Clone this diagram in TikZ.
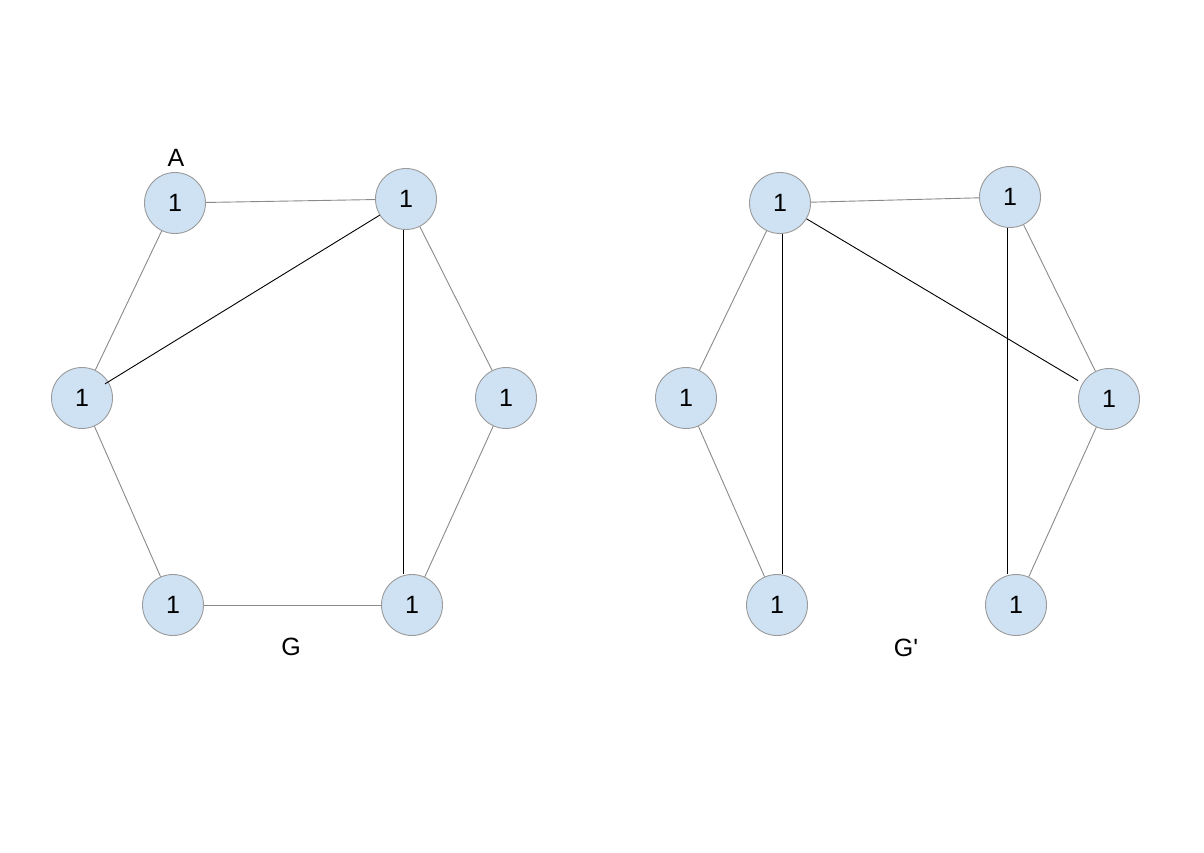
\documentclass[tikz,border=0pt]{standalone}
\usepackage{fontspec}
\setmainfont{Liberation Sans}
\newfontfamily\lsans{Liberation Sans}
\usetikzlibrary{calc}
\definecolor{nodefill}{HTML}{CFE2F3}
\definecolor{nodeline}{HTML}{9A9A9A}
\definecolor{edgegray}{HTML}{8A8A8A}
\begin{document}
\begin{tikzpicture}[x=1pt,y=-1pt,
  vtx/.style={circle,draw=nodeline,fill=nodefill,line width=0.9pt,minimum size=61pt,inner sep=0pt,font=\lsans\fontsize{25}{30}\selectfont},
  lbl/.style={font=\lsans\fontsize{25}{30}\selectfont,inner sep=0pt},
  ge/.style={draw=edgegray,line width=0.9pt},
  be/.style={draw=black,line width=0.9pt}]
\useasboundingbox[fill=white] (0,0) rectangle (1204,852);
% left graph G
\node[vtx] (A) at (175,203) {1};
\node[vtx] (B) at (406,199) {1};
\node[vtx] (C) at (82,398) {1};
\node[vtx] (D) at (506,398) {1};
\node[vtx] (E) at (173,605) {1};
\node[vtx] (F) at (412,605) {1};
\node[lbl] (la) at (176,158) {A};
\node[lbl] (lg) at (291,647) {G};
\draw[ge] (A) -- (B);
\draw[ge] (A) -- (C);
\draw[ge] (C) -- (E);
\draw[ge] (E) -- (F);
\draw[ge] (B) -- (D);
\draw[ge] (D) -- (F);
\draw[be] (B) -- ($(C.center)!27pt!(B.center)$);
\draw[be] ([xshift=-3pt]B.south) -- ([xshift=-3pt]B.south |- F.north);
% right graph G'
\node[vtx] (P) at (780,203) {1};
\node[vtx] (Q) at (1010,197) {1};
\node[vtx] (R) at (686,398) {1};
\node[vtx] (S) at (1109,399) {1};
\node[vtx] (T) at (777,605) {1};
\node[vtx] (U) at (1016,605) {1};
\node[lbl] (lgp) at (906,648) {G'};
\draw[ge] (P) -- (Q);
\draw[ge] (P) -- (R);
\draw[ge] (R) -- (T);
\draw[ge] (Q) -- (S);
\draw[ge] (S) -- (U);
\draw[be] (P) -- ($(S.center)!36pt!(P.center)$);
\draw[be] ([xshift=2pt]P.south) -- ([xshift=2pt]P.south |- T.north);
\draw[be] ([xshift=-3pt]Q.south) -- ([xshift=-3pt]Q.south |- U.north);
\end{tikzpicture}
\end{document}
